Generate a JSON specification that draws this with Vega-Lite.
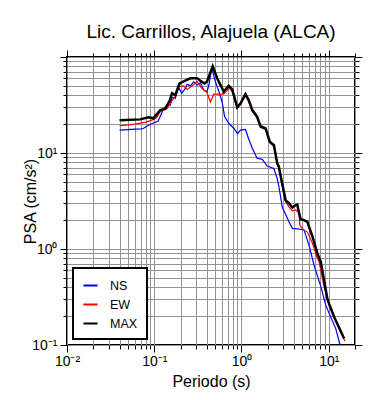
{
  "$schema": "https://vega.github.io/schema/vega-lite/v6.json",
  "autosize": {"type": "none"},
  "width": 288,
  "height": 288,
  "padding": {"left": 67, "top": 57, "right": 35, "bottom": 55},
  "title": {"text": "Lic. Carrillos, Alajuela (ALCA)", "fontSize": 19, "font": "Liberation Sans", "fontWeight": "normal", "color": "black", "offset": 8},
  "config": {
    "font": "Liberation Sans",
    "view": {"stroke": "black", "strokeWidth": 2},
    "axis": {
      "labelFont": "Liberation Sans",
      "titleFont": "Liberation Sans",
      "labelColor": "black",
      "titleColor": "black",
      "tickColor": "black",
      "tickWidth": 1,
      "domain": false,
      "labelFlush": false,
      "labelOverlap": false,
      "gridColor": "#939393",
      "gridWidth": 1,
      "gridOpacity": 1,
      "titleFontWeight": "normal"
    }
  },
  "data": {"values": [
    {"T": 0.040, "PSA": 17.3, "c": "NS"}, {"T": 0.050, "PSA": 17.5, "c": "NS"}, {"T": 0.060, "PSA": 17.7, "c": "NS"}, {"T": 0.070, "PSA": 17.8, "c": "NS"},
    {"T": 0.075, "PSA": 18.0, "c": "NS"}, {"T": 0.082, "PSA": 19.0, "c": "NS"}, {"T": 0.090, "PSA": 19.8, "c": "NS"}, {"T": 0.103, "PSA": 21.0, "c": "NS"},
    {"T": 0.110, "PSA": 21.3, "c": "NS"}, {"T": 0.117, "PSA": 24, "c": "NS"}, {"T": 0.128, "PSA": 29, "c": "NS"}, {"T": 0.140, "PSA": 31.6, "c": "NS"},
    {"T": 0.153, "PSA": 31.6, "c": "NS"}, {"T": 0.160, "PSA": 38, "c": "NS"}, {"T": 0.174, "PSA": 37, "c": "NS"}, {"T": 0.190, "PSA": 48, "c": "NS"},
    {"T": 0.207, "PSA": 42, "c": "NS"}, {"T": 0.227, "PSA": 47, "c": "NS"}, {"T": 0.238, "PSA": 52, "c": "NS"}, {"T": 0.259, "PSA": 50, "c": "NS"},
    {"T": 0.283, "PSA": 55, "c": "NS"}, {"T": 0.310, "PSA": 51, "c": "NS"}, {"T": 0.338, "PSA": 54, "c": "NS"}, {"T": 0.370, "PSA": 45, "c": "NS"},
    {"T": 0.403, "PSA": 43.6, "c": "NS"}, {"T": 0.425, "PSA": 52, "c": "NS"}, {"T": 0.455, "PSA": 77, "c": "NS"}, {"T": 0.500, "PSA": 56, "c": "NS"},
    {"T": 0.550, "PSA": 44, "c": "NS"}, {"T": 0.600, "PSA": 34, "c": "NS"}, {"T": 0.640, "PSA": 24, "c": "NS"}, {"T": 0.715, "PSA": 20.4, "c": "NS"},
    {"T": 0.820, "PSA": 18, "c": "NS"}, {"T": 0.900, "PSA": 15.9, "c": "NS"}, {"T": 0.975, "PSA": 17.3, "c": "NS"}, {"T": 1.11, "PSA": 17.6, "c": "NS"},
    {"T": 1.21, "PSA": 14, "c": "NS"}, {"T": 1.33, "PSA": 11.2, "c": "NS"}, {"T": 1.51, "PSA": 8.8, "c": "NS"}, {"T": 1.73, "PSA": 8.6, "c": "NS"},
    {"T": 1.97, "PSA": 7.3, "c": "NS"}, {"T": 2.35, "PSA": 6.9, "c": "NS"}, {"T": 2.57, "PSA": 5.4, "c": "NS"}, {"T": 2.68, "PSA": 4.5, "c": "NS"},
    {"T": 2.94, "PSA": 2.7, "c": "NS"}, {"T": 3.20, "PSA": 2.3, "c": "NS"}, {"T": 3.50, "PSA": 1.92, "c": "NS"}, {"T": 3.83, "PSA": 1.64, "c": "NS"},
    {"T": 4.36, "PSA": 1.62, "c": "NS"}, {"T": 5.20, "PSA": 1.58, "c": "NS"}, {"T": 5.94, "PSA": 1.1, "c": "NS"}, {"T": 6.78, "PSA": 0.68, "c": "NS"},
    {"T": 8.09, "PSA": 0.41, "c": "NS"}, {"T": 9.24, "PSA": 0.26, "c": "NS"}, {"T": 10.5, "PSA": 0.197, "c": "NS"}, {"T": 12.0, "PSA": 0.149, "c": "NS"},
    {"T": 13.5, "PSA": 0.10, "c": "NS"},

    {"T": 0.040, "PSA": 19.3, "c": "EW"}, {"T": 0.050, "PSA": 19.6, "c": "EW"}, {"T": 0.060, "PSA": 20.0, "c": "EW"}, {"T": 0.069, "PSA": 20.5, "c": "EW"},
    {"T": 0.080, "PSA": 21.0, "c": "EW"}, {"T": 0.094, "PSA": 22, "c": "EW"}, {"T": 0.105, "PSA": 23, "c": "EW"}, {"T": 0.117, "PSA": 27, "c": "EW"},
    {"T": 0.130, "PSA": 28, "c": "EW"}, {"T": 0.140, "PSA": 29, "c": "EW"}, {"T": 0.153, "PSA": 33, "c": "EW"}, {"T": 0.174, "PSA": 39, "c": "EW"},
    {"T": 0.190, "PSA": 49, "c": "EW"}, {"T": 0.217, "PSA": 50, "c": "EW"}, {"T": 0.238, "PSA": 46, "c": "EW"}, {"T": 0.271, "PSA": 50, "c": "EW"},
    {"T": 0.310, "PSA": 55.6, "c": "EW"}, {"T": 0.353, "PSA": 47, "c": "EW"}, {"T": 0.403, "PSA": 42.7, "c": "EW"}, {"T": 0.440, "PSA": 34, "c": "EW"},
    {"T": 0.481, "PSA": 41, "c": "EW"}, {"T": 0.526, "PSA": 41, "c": "EW"}, {"T": 0.626, "PSA": 41, "c": "EW"}, {"T": 0.685, "PSA": 45, "c": "EW"},
    {"T": 0.715, "PSA": 48, "c": "EW"}, {"T": 0.782, "PSA": 44, "c": "EW"}, {"T": 0.893, "PSA": 29, "c": "EW"}, {"T": 0.975, "PSA": 32, "c": "EW"},
    {"T": 1.11, "PSA": 39.5, "c": "EW"}, {"T": 1.21, "PSA": 34.5, "c": "EW"}, {"T": 1.33, "PSA": 27, "c": "EW"}, {"T": 1.51, "PSA": 23, "c": "EW"},
    {"T": 1.65, "PSA": 18.5, "c": "EW"}, {"T": 1.89, "PSA": 17.5, "c": "EW"}, {"T": 2.11, "PSA": 12.8, "c": "EW"}, {"T": 2.35, "PSA": 11.7, "c": "EW"},
    {"T": 2.57, "PSA": 7.6, "c": "EW"}, {"T": 2.68, "PSA": 7.0, "c": "EW"}, {"T": 2.94, "PSA": 4.6, "c": "EW"}, {"T": 3.21, "PSA": 3.1, "c": "EW"},
    {"T": 3.50, "PSA": 2.75, "c": "EW"}, {"T": 3.83, "PSA": 2.5, "c": "EW"}, {"T": 4.18, "PSA": 2.55, "c": "EW"}, {"T": 4.56, "PSA": 2.4, "c": "EW"},
    {"T": 4.68, "PSA": 1.75, "c": "EW"}, {"T": 5.20, "PSA": 1.57, "c": "EW"}, {"T": 5.69, "PSA": 1.5, "c": "EW"}, {"T": 6.50, "PSA": 1.15, "c": "EW"},
    {"T": 7.40, "PSA": 0.8, "c": "EW"}, {"T": 7.74, "PSA": 0.74, "c": "EW"}, {"T": 8.83, "PSA": 0.41, "c": "EW"}, {"T": 10.07, "PSA": 0.26, "c": "EW"},
    {"T": 12.0, "PSA": 0.18, "c": "EW"}, {"T": 15.3, "PSA": 0.11, "c": "EW"},

    {"T": 0.040, "PSA": 22, "c": "MAX"}, {"T": 0.069, "PSA": 22.4, "c": "MAX"}, {"T": 0.086, "PSA": 23.5, "c": "MAX"}, {"T": 0.098, "PSA": 23, "c": "MAX"},
    {"T": 0.117, "PSA": 28, "c": "MAX"}, {"T": 0.134, "PSA": 29, "c": "MAX"}, {"T": 0.150, "PSA": 35, "c": "MAX"}, {"T": 0.160, "PSA": 42, "c": "MAX"},
    {"T": 0.174, "PSA": 40, "c": "MAX"}, {"T": 0.195, "PSA": 53, "c": "MAX"}, {"T": 0.227, "PSA": 56.6, "c": "MAX"}, {"T": 0.259, "PSA": 60, "c": "MAX"},
    {"T": 0.310, "PSA": 60, "c": "MAX"}, {"T": 0.338, "PSA": 56.6, "c": "MAX"}, {"T": 0.376, "PSA": 53, "c": "MAX"}, {"T": 0.403, "PSA": 55.6, "c": "MAX"},
    {"T": 0.468, "PSA": 80, "c": "MAX"}, {"T": 0.526, "PSA": 60, "c": "MAX"}, {"T": 0.574, "PSA": 51, "c": "MAX"}, {"T": 0.626, "PSA": 43.6, "c": "MAX"},
    {"T": 0.685, "PSA": 48, "c": "MAX"}, {"T": 0.715, "PSA": 50, "c": "MAX"}, {"T": 0.782, "PSA": 46, "c": "MAX"}, {"T": 0.893, "PSA": 30, "c": "MAX"},
    {"T": 0.975, "PSA": 33, "c": "MAX"}, {"T": 1.11, "PSA": 41, "c": "MAX"}, {"T": 1.21, "PSA": 35.6, "c": "MAX"}, {"T": 1.33, "PSA": 28, "c": "MAX"},
    {"T": 1.51, "PSA": 24, "c": "MAX"}, {"T": 1.65, "PSA": 19, "c": "MAX"}, {"T": 1.89, "PSA": 18, "c": "MAX"}, {"T": 2.11, "PSA": 13.1, "c": "MAX"},
    {"T": 2.35, "PSA": 12.1, "c": "MAX"}, {"T": 2.57, "PSA": 7.8, "c": "MAX"}, {"T": 2.68, "PSA": 7.2, "c": "MAX"}, {"T": 2.94, "PSA": 4.7, "c": "MAX"},
    {"T": 3.21, "PSA": 3.2, "c": "MAX"}, {"T": 3.50, "PSA": 3.0, "c": "MAX"}, {"T": 3.83, "PSA": 2.7, "c": "MAX"}, {"T": 4.18, "PSA": 2.87, "c": "MAX"},
    {"T": 4.36, "PSA": 2.9, "c": "MAX"}, {"T": 4.56, "PSA": 2.4, "c": "MAX"}, {"T": 4.76, "PSA": 2.04, "c": "MAX"}, {"T": 5.20, "PSA": 2.0, "c": "MAX"},
    {"T": 5.69, "PSA": 1.92, "c": "MAX"}, {"T": 6.50, "PSA": 1.35, "c": "MAX"}, {"T": 7.40, "PSA": 0.9, "c": "MAX"}, {"T": 8.09, "PSA": 0.74, "c": "MAX"},
    {"T": 8.83, "PSA": 0.475, "c": "MAX"}, {"T": 9.60, "PSA": 0.31, "c": "MAX"}, {"T": 10.07, "PSA": 0.27, "c": "MAX"}, {"T": 11.5, "PSA": 0.197, "c": "MAX"},
    {"T": 15.0, "PSA": 0.117, "c": "MAX"}
  ]},
  "layer": [
    {
      "transform": [{"filter": "datum.c == 'NS'"}],
      "mark": {"type": "line", "strokeWidth": 1.2},
      "encoding": {
        "x": {"field": "T", "type": "quantitative",
          "scale": {"type": "log", "domain": [0.01, 20], "nice": false},
          "axis": {"orient": "bottom", "title": "Periodo (s)", "titleFontSize": 16, "titlePadding": 5, "labelFontSize": 14, "labelPadding": 2, "grid": true,
            "values": [0.01,0.02,0.03,0.04,0.05,0.06,0.07,0.08,0.09,0.1,0.2,0.3,0.4,0.5,0.6,0.7,0.8,0.9,1,2,3,4,5,6,7,8,9,10,20],
            "labelExpr": "datum.value == 0.01 ? '10⁻²' : datum.value == 0.1 ? '10⁻¹' : datum.value == 1 ? '10⁰' : datum.value == 10 ? '10¹' : ''",
            "tickSize": {"condition": {"test": "abs(log(datum.value)/LN10 - round(log(datum.value)/LN10)) < 0.001", "value": 7}, "value": 4}}},
        "y": {"field": "PSA", "type": "quantitative",
          "scale": {"type": "log", "domain": [0.1, 100], "nice": false},
          "axis": {"orient": "left", "title": "PSA (cm/s²)", "titleFontSize": 16, "titleX": -29, "labelFontSize": 14, "labelPadding": 3, "grid": true,
            "values": [0.1,0.2,0.3,0.4,0.5,0.6,0.7,0.8,0.9,1,2,3,4,5,6,7,8,9,10,20,30,40,50,60,70,80,90,100],
            "labelExpr": "datum.value == 0.1 ? '10⁻¹' : datum.value == 1 ? '10⁰' : datum.value == 10 ? '10¹' : ''",
            "tickSize": {"condition": {"test": "abs(log(datum.value)/LN10 - round(log(datum.value)/LN10)) < 0.001", "value": 7}, "value": 4}}},
        "color": {"field": "c", "type": "nominal",
          "scale": {"domain": ["NS", "EW", "MAX"], "range": ["#0000ff", "#ff0000", "#000000"]},
          "legend": {"orient": "bottom-left", "offset": 6, "title": null, "fillColor": "white", "strokeColor": "black", "padding": 9,
            "symbolType": "stroke", "symbolStrokeWidth": 2, "symbolSize": 200, "labelFontSize": 12.5, "labelOffset": 11, "rowPadding": 4,
            "labelColor": "black", "labelExpr": "datum.label + '\u00a0\u00a0'",
            "encode": {"legend": {"update": {"strokeWidth": {"value": 2}}}}}}
      }
    },
    {
      "transform": [{"filter": "datum.c == 'EW'"}],
      "mark": {"type": "line", "strokeWidth": 1.2},
      "encoding": {
        "x": {"field": "T", "type": "quantitative",
          "axis": {"orient": "top", "title": null, "labels": false, "grid": false,
            "values": [0.01,0.02,0.03,0.04,0.05,0.06,0.07,0.08,0.09,0.1,0.2,0.3,0.4,0.5,0.6,0.7,0.8,0.9,1,2,3,4,5,6,7,8,9,10,20],
            "tickSize": {"condition": {"test": "abs(log(datum.value)/LN10 - round(log(datum.value)/LN10)) < 0.001", "value": 7}, "value": 4}}},
        "y": {"field": "PSA", "type": "quantitative",
          "axis": {"orient": "right", "title": null, "labels": false, "grid": false,
            "values": [0.1,0.2,0.3,0.4,0.5,0.6,0.7,0.8,0.9,1,2,3,4,5,6,7,8,9,10,20,30,40,50,60,70,80,90,100],
            "tickSize": {"condition": {"test": "abs(log(datum.value)/LN10 - round(log(datum.value)/LN10)) < 0.001", "value": 7}, "value": 4}}},
        "color": {"field": "c", "type": "nominal"}
      }
    },
    {
      "transform": [{"filter": "datum.c == 'MAX'"}],
      "mark": {"type": "line", "strokeWidth": 2.5},
      "encoding": {
        "x": {"field": "T", "type": "quantitative", "axis": null},
        "y": {"field": "PSA", "type": "quantitative", "axis": null},
        "color": {"field": "c", "type": "nominal"}
      }
    }
  ],
  "resolve": {"axis": {"x": "independent", "y": "independent"}}
}
